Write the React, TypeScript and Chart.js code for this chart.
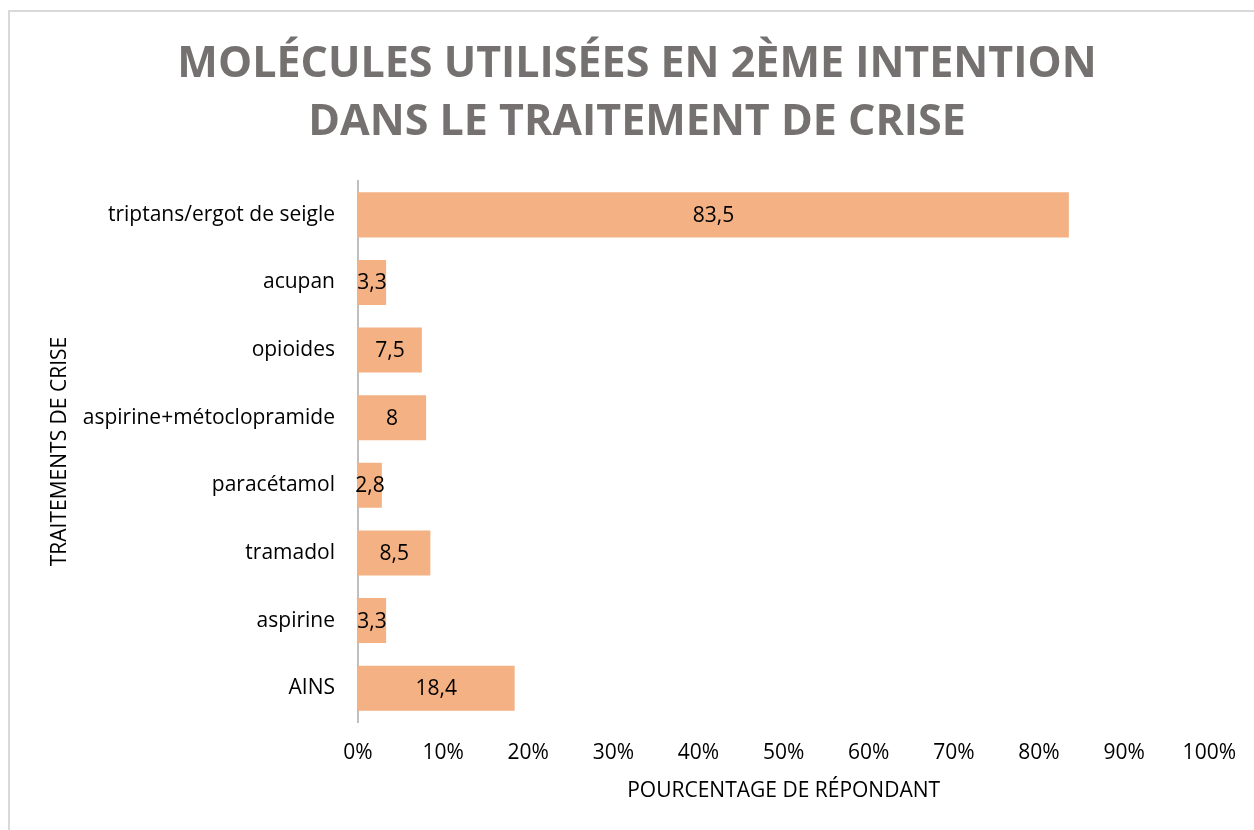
import React, { useEffect, useRef } from "react";
import { Chart, registerables } from "chart.js";

Chart.register(...registerables);

const categories = [
  "triptans/ergot de seigle",
  "acupan",
  "opioides",
  "aspirine+métoclopramide",
  "paracétamol",
  "tramadol",
  "aspirine",
  "AINS",
];
const values = [83.5, 3.3, 7.5, 8, 2.8, 8.5, 3.3, 18.4];
const titleLines = ["MOLÉCULES UTILISÉES EN 2ÈME INTENTION", "DANS LE TRAITEMENT DE CRISE"];
const xTitle = "POURCENTAGE DE RÉPONDANT";
const yTitle = "TRAITEMENTS DE CRISE";

const FONT = "'Open Sans', sans-serif";
const TEXT_SIZE = 21;

const valueLabels = {
  id: "valueLabels",
  afterDatasetsDraw(chart: any) {
    const ctx = chart.ctx;
    const meta = chart.getDatasetMeta(0);
    ctx.save();
    ctx.font = `${TEXT_SIZE}px ${FONT}`;
    ctx.fillStyle = "#000";
    ctx.textAlign = "center";
    ctx.textBaseline = "middle";
    meta.data.forEach((bar: any, i: number) => {
      const v = values[i];
      const cx = (bar.x + bar.base) / 2;
      ctx.fillText(String(v).replace(".", ","), cx, bar.y + 1);
    });
    ctx.restore();
  },
};

export default function App() {
  const ref = useRef<HTMLCanvasElement | null>(null);
  useEffect(() => {
    if (!ref.current) return;
    const chart = new Chart(ref.current, {
      type: "bar",
      data: {
        labels: categories,
        datasets: [
          {
            data: values,
            backgroundColor: "#f4b183",
            borderWidth: 0,
            categoryPercentage: 1,
            barPercentage: 0.667,
          },
        ],
      },
      options: {
        indexAxis: "y",
        animation: false,
        responsive: false,
        maintainAspectRatio: false,
        layout: { padding: { left: 20, right: 0, top: 0, bottom: 0 } },
        plugins: {
          legend: { display: false },
          tooltip: { enabled: false },
          title: {
            display: true,
            text: titleLines,
            color: "#757171",
            font: { family: FONT, size: 43, weight: "bold", lineHeight: 1.349 },
            padding: { top: 36, bottom: 29 },
          },
        },
        scales: {
          x: {
            min: 0,
            max: 100,
            ticks: {
              stepSize: 10,
              color: "#000",
              font: { family: FONT, size: TEXT_SIZE },
              padding: 18,
              maxRotation: 0,
              callback: (v: any) => `${v}%`,
            },
            grid: { display: false, drawTicks: false },
            border: { display: false },
            title: {
              display: true,
              text: xTitle,
              color: "#000",
              font: { family: FONT, size: TEXT_SIZE },
              padding: { top: 0, bottom: 26 },
            },
            afterFit: (s: any) => {
              s.height = 830 - 722;
            },
          },
          y: {
            ticks: {
              color: "#000",
              font: { family: FONT, size: TEXT_SIZE },
              padding: 23,
            },
            grid: { display: true, drawOnChartArea: false, drawTicks: false },
            border: { display: true, color: "#bfbfbf", width: 2 },
            title: {
              display: true,
              text: yTitle,
              color: "#000",
              font: { family: FONT, size: TEXT_SIZE },
              padding: { top: 27, bottom: 0 },
            },
            afterFit: (s: any) => {
              s.width = 338;
            },
          },
          yRight: {
            type: "linear",
            position: "right",
            display: true,
            ticks: { display: false },
            grid: { display: false, drawTicks: false },
            border: { display: false },
            afterFit: (s: any) => {
              s.width = 41;
            },
          },
        },
      },
      plugins: [valueLabels],
    });
    return () => chart.destroy();
  }, []);
  return (
    <div style={{ position: "fixed", left: 0, top: 0, width: 1254, height: 830, overflow: "hidden", background: "#fff" }}>
      <div
        style={{
          position: "absolute",
          left: 8,
          top: 10,
          width: 1300,
          height: 900,
          border: "2px solid #d9d9d9",
        }}
      />
      <canvas ref={ref} width={1254} height={830} style={{ position: "absolute", left: 0, top: 0 }} />
    </div>
  );
}
